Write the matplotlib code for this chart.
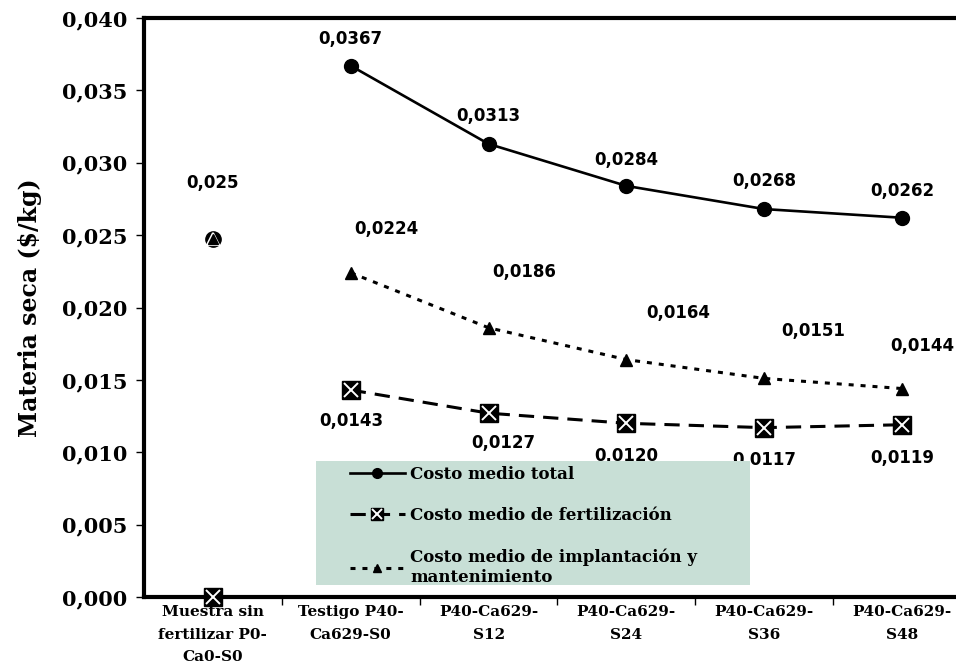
import numpy as np
import matplotlib
matplotlib.use("Agg")
import matplotlib.pyplot as plt
from matplotlib.patches import Rectangle
from matplotlib.ticker import FuncFormatter, FixedLocator

plt.rcParams["lines.scale_dashes"] = False

CATEGORIES = ["Muestra sin\nfertilizar P0-\nCa0-S0", "Testigo P40-\nCa629-S0", "P40-Ca629-\nS12",
              "P40-Ca629-\nS24", "P40-Ca629-\nS36", "P40-Ca629-\nS48"]
TOTAL = [0.0247, 0.0367, 0.0313, 0.0284, 0.0268, 0.0262]
FERT = [0.0, 0.0143, 0.0127, 0.0120, 0.0117, 0.0119]
IMPL = [0.0247, 0.0224, 0.0186, 0.0164, 0.0151, 0.0144]
TOTAL_LBL = ["0,025", "0,0367", "0,0313", "0,0284", "0,0268", "0,0262"]
FERT_LBL = [None, "0,0143", "0,0127", "0,0120", "0,0117", "0,0119"]
IMPL_LBL = [None, "0,0224", "0,0186", "0,0164", "0,0151", "0,0144"]

# label offsets in pixels (hand-placed in the original)
TOTAL_OFF = [(0, 56), (0, 27), (0, 28), (0, 26), (0, 28), (0, 27)]
FERT_OFF = [None, (1, -31), (15, -30), (0, -33), (0, -32), (0, -33)]
IMPL_OFF = [None, (36, 44), (36, 56), (52, 47), (49, 47), (20, 43)]

SERIF = "DejaVu Serif"
SANS = "DejaVu Sans"

fig = plt.figure(figsize=(9.56, 6.69), dpi=100)
ax = fig.add_axes([144/956, 72/669, 827/956, 579/669])
x = np.arange(len(CATEGORIES))

# lines only across the fertilised treatments; the first category is stand-alone
l_tot, = ax.plot(x[1:], TOTAL[1:], color="black", lw=1.9, marker="o", ms=10, zorder=3)
ax.plot(x[0], TOTAL[0], color="black", marker="o", ms=11, ls="none", zorder=3)
l_fert, = ax.plot(x[1:], FERT[1:], color="black", lw=2.2, dashes=(11, 6.5),
                  marker="s", ms=13, zorder=3)
x_fert, = ax.plot(x[1:], FERT[1:], color="white", ls="none", marker="x", ms=10, mew=1.4, zorder=3.1)
ax.plot(x[0], FERT[0], color="black", marker="s", ms=13, ls="none", zorder=3, clip_on=False)
ax.plot(x[0], FERT[0], color="white", marker="x", ms=10, mew=1.4, ls="none", zorder=3.1, clip_on=False)
l_impl, = ax.plot(x[1:], IMPL[1:], color="black", lw=2.2, dashes=(3.6, 5),
                  marker="^", ms=9, zorder=3)
ax.plot(x[0], IMPL[0], color="white", marker="^", ms=9, mec="white", mew=1.5, ls="none", zorder=3.2)
ax.plot(x[0], IMPL[0], color="black", marker="^", ms=7, ls="none", zorder=3.3)

for vals, lbls, offs in [(TOTAL, TOTAL_LBL, TOTAL_OFF), (FERT, FERT_LBL, FERT_OFF),
                         (IMPL, IMPL_LBL, IMPL_OFF)]:
    for xi, v, t, o in zip(x, vals, lbls, offs):
        if t is None:
            continue
        ax.annotate(t, (xi, v), xytext=o, textcoords="offset pixels", ha="center", va="center",
                    fontsize=12, fontweight="bold", family=SANS, zorder=3, annotation_clip=False)

ax.set_xlim(-0.5, 5.5)
ax.set_ylim(0, 0.040)
ax.yaxis.set_major_locator(FixedLocator(np.arange(0, 0.0401, 0.005)))
ax.yaxis.set_major_formatter(FuncFormatter(lambda v, p: f"{v:.3f}".replace(".", ",")))
ax.set_xticks(x)
ax.set_xticklabels(CATEGORIES, fontsize=11, fontweight="bold", family=SERIF, linespacing=1.75)
ax.set_xticks(np.arange(0.5, 5.0, 1.0), minor=True)
ax.tick_params(axis="x", which="major", length=0, pad=6)
ax.tick_params(axis="x", which="minor", length=6, width=1, direction="out")
ax.tick_params(axis="y", length=6, width=1, direction="out", pad=6)
for lab in ax.get_yticklabels():
    lab.set_fontsize(15); lab.set_fontweight("bold"); lab.set_family(SERIF)
ax.set_ylabel("Materia seca ($/kg)", fontsize=17, fontweight="bold", family=SERIF)
ax.yaxis.set_label_coords(-0.123, 0.5)
for s in ["left", "bottom", "top", "right"]:
    ax.spines[s].set_linewidth(3)

# legend panel
ax.add_patch(Rectangle((0.208, 0.0207), 0.525, 0.2143, transform=ax.transAxes,
                       facecolor="#c8dfd6", edgecolor="none", zorder=4))
leg = ax.legend([l_tot, (l_fert, x_fert), l_impl],
                ["Costo medio total", "Costo medio de fertilización",
                 "Costo medio de implantación y\nmantenimiento"],
                loc="upper left", bbox_to_anchor=(0.249, 0.226), frameon=False,
                borderpad=0, borderaxespad=0, handlelength=3.3, handletextpad=0.3,
                labelspacing=1.45, markerscale=0.7, numpoints=1,
                prop={"family": SERIF, "weight": "bold", "size": 12})
leg.set_zorder(5)

fig.savefig("out.png", dpi=100)
